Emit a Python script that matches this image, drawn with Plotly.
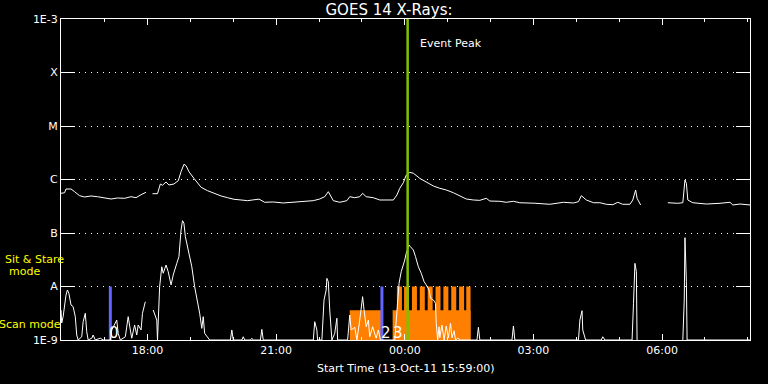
import plotly.graph_objects as go
import pandas as pd

# ---------------- data ----------------
START = "2011-10-13 15:59:00"
END_MIN = 964  # minutes after start shown on the x axis

# GOES 14 long channel (1-8 A), minutes after start, flux W/m^2
long_t = [0, 5, 7, 14, 19, 26, 33, 42, 51, 61, 70, 79, 89, 98, 105, 112, 119, 123,
          128, 135, 139, 142, 147, 151, 158, 164, 168, 172, 175, 179, 186, 196, 205,
          214, 224, 233, 242, 252, 261, 268, 277, 285, 297, 311, 325, 339, 353, 362,
          369, 374, 377, 381, 390, 400, 404, 411, 418, 422, 427, 437, 446, 456, 465,
          470, 474, 479, 483, 488, 493, 502, 511, 521, 530, 539, 549, 558, 567, 577,
          586, 595, 600, 614, 623, 633, 642, 663, 684, 703, 717, 724, 728, 735, 745,
          754, 763, 772, 779, 786, 796, 800, 804, 806, 811, 830, 849, 863, 870, 873,
          875, 877, 884, 903, 922, 936, 940, 950, 964]
long_flux = [5.52e-7, 5.66e-7, 6.64e-7, 6.64e-7, 5.92e-7, 4.98e-7, 4.71e-7, 4.92e-7,
             4.77e-7, 4.51e-7, 4.32e-7, 4.51e-7, 4.45e-7, 4.77e-7, 4.57e-7, 5.2e-7,
             5.77e-7, None,
             5.43e-7, 5.43e-7, 8.24e-7, 7.8e-7, 8.98e-7, 7.89e-7, 8.24e-7, 9.5e-7,
             1.40e-6, 1.92e-6, 1.81e-6, 1.40e-6, 1.05e-6, 7.15e-7, 6.18e-7, 5.52e-7,
             4.92e-7, 4.57e-7, 4.27e-7, 4.14e-7, 4.02e-7, 4.14e-7, 4.3e-7, 3.75e-7,
             3.80e-7, 3.64e-7, 3.80e-7, 3.96e-7, 4.02e-7, 4.32e-7, 4.77e-7, 5.92e-7,
             4.92e-7, 4.02e-7, 3.75e-7, 4.02e-7, 4.77e-7, 4.57e-7, 4.77e-7, 5.52e-7,
             4.77e-7, 4.57e-7, 4.14e-7, 4.08e-7, 4.14e-7, 5.13e-7, 6.85e-7, 8.71e-7,
             1.21e-6, 1.36e-6, 1.31e-6, 1.05e-6, 8.87e-7, 7.56e-7, 6.85e-7, 6.37e-7,
             5.66e-7, 4.92e-7, 4.32e-7, 4.14e-7, 4.08e-7, 4.45e-7, 3.96e-7, 3.91e-7,
             3.75e-7, 3.91e-7, 3.68e-7, 3.6e-7, 3.44e-7, 3.75e-7, 3.64e-7, 3.85e-7,
             4.98e-7, 4.14e-7, 3.68e-7, 3.68e-7, 3.44e-7, 3.38e-7, 3.75e-7, 3.44e-7,
             3.44e-7, 4.14e-7, 6.37e-7, 4.45e-7, 3.34e-7, None, 3.68e-7, 3.59e-7,
             3.68e-7, 9.79e-7, 8.49e-7, 4.14e-7, 3.68e-7, 3.48e-7, 3.59e-7, 3.75e-7,
             3.34e-7, 3.48e-7, 3.34e-7]

# GOES 14 short channel (0.5-4 A)
short_t = [0, 1, 3, 7, 9, 11, 14, 17, 20, 22, 24, 29, 31, 34, 36, 38, 43, 45, 48, 55,
           59, 69, 71, 78, 80, 83, 90, 94, 97, 99, 103, 106, 108, 112, 114, 116, 118,
           123, 129, 131, 134, 135, 138, 141, 143, 147, 150, 154, 157, 162, 165, 168,
           170, 172, 174, 178, 183, 187, 191, 194, 197, 199, 201, 205, 208, 220, 237,
           239, 241, 253, 255, 257, 265, 267, 269, 279, 281, 283, 306, 339, 353, 355,
           358, 359, 365, 368, 371, 372, 374, 376, 379, 383, 386, 387, 401, 404, 406,
           411, 414, 418, 422, 424, 427, 430, 432, 436, 441, 444, 447, 467, 470, 472,
           473, 476, 479, 481, 483, 487, 488, 493, 496, 500, 504, 508, 511, 515, 517,
           521, 524, 525, 527, 529, 530, 533, 536, 539, 542, 545, 547, 550, 552, 555,
           559, 582, 584, 586, 631, 633, 635, 724, 726, 729, 730, 734, 756, 758, 761,
           799, 801, 803, 805, 806, 830, 870, 872, 873, 875, 876, 964]
short_flux = [3.64e-9, 2.08e-9, 2.73e-9, 6.93e-9, 8.6e-9, 7.46e-9, 4.51e-9, 4.19e-9,
              2.73e-9, 1.24e-9, 1e-9, 1.15e-9, 2.2e-9, 3.16e-9, 1.43e-9, 1e-9, 1.08e-9,
              1.24e-9, 1e-9, 1.08e-9, 1e-9, 1e-9, 1.54e-9, 2.36e-9, 1.33e-9, 1e-9,
              1.15e-9, 2.73e-9, 1.54e-9, 1.08e-9, 1.91e-9, 1.24e-9, 1.91e-9, 1.54e-9,
              3.16e-9, 4.19e-9, 5.2e-9,
              None, 3.64e-9, 2.93e-9, 2.36e-9, 1e-9, 9.9e-9, 2.34e-8, 1.77e-8, 2.52e-8,
              1.89e-8, 1.07e-8, 1.64e-8, 2.71e-8, 3.61e-8, 1.14e-7, 1.70e-7, 1.52e-7,
              8.53e-8, 4.81e-8, 2.34e-8, 9.9e-9, 5.6e-9, 3.16e-9, 1.65e-9, 2.73e-9,
              1.33e-9, 1.15e-9, 1e-9, 1e-9, 1e-9, 1.54e-9, 1e-9, 1e-9, 1.15e-9, 1e-9,
              1e-9, 1.08e-9, 1e-9, 1e-9, 1.58e-9, 1e-9, 1e-9, 1e-9, 1e-9, 2.2e-9,
              1.54e-9, 1e-9, 1e-9, 5.6e-9, 8.6e-9, 1.42e-8, 1.23e-8, 3.64e-9, 1e-9,
              1.33e-9, 2.55e-9, 1e-9, 1e-9, 2.93e-9, 1.54e-9, 1.73e-9, 1e-9, 2.36e-9,
              6.45e-9, 3.64e-9, 1.77e-9, 2.36e-9, 1.15e-9, 1.77e-9, 1.08e-9, 1.54e-9,
              1e-9, 1e-9, 3.64e-9, 8.6e-9, 1.15e-8, 1.89e-8, 2.52e-8, 3.13e-8, 4.18e-8,
              5.97e-8, 5.71e-8, 4.81e-8, 3.61e-8, 2.34e-8, 1.77e-8, 1.23e-8, 1.07e-8,
              8.6e-9, 6.02e-9, 5.6e-9, 4.85e-9, 2.05e-9, 1e-9, 1.77e-9, 1.1e-9, 1.91e-9,
              1e-9, 1.83e-9, 1.1e-9, 2.05e-9, 1.1e-9, 1.49e-9, 1e-9, 1.08e-9, 1e-9,
              1e-9, 1.73e-9, 1e-9, 1e-9, 1.83e-9, 1e-9, 1e-9, 2.36e-9, 3.53e-9,
              1.54e-9, 1e-9, 1e-9, 1.15e-9, 1e-9, 1e-9, 4.85e-9, 2.71e-8, 1.89e-8, 1e-9,
              None, 1e-9, 5.6e-9, 8.17e-8, 1.23e-8, 1e-9, 1e-9]

# observation periods (minutes after start)
scan_start = [404, 464]
scan_end = [448, 573]
scan_level = 3.6e-9
sitstare_start = [470, 480, 491, 502, 513, 524, 535, 546, 557, 567]
sitstare_end = [477, 487, 498, 509, 520, 531, 542, 553, 564, 573]
sitstare_level = 1e-8
marker_min = [69, 449]          # blue markers
marker_labels = ["0", "2", "3"]
marker_label_min = [74, 455, 471]
event_peak_min = 485

flux_floor = 1e-9
flux_top = 1e-3
ytick_vals = [1e-9, 1e-8, 1e-7, 1e-6, 1e-5, 1e-4, 1e-3]
ytick_text = ["1E-9", "A", "B", "C", "M", "X", "1E-3"]

# ---------------- figure ----------------
t0 = pd.Timestamp(START)


def T(m):
    return t0 + pd.Timedelta(minutes=m)


ORANGE = "#ff8000"
BLUE = "#6464ff"
GREEN = "#80c000"
YELLOW = "#ffff00"

fig = go.Figure()

# orange observation blocks
for s, e in zip(scan_start, scan_end):
    fig.add_trace(go.Scatter(x=[T(s), T(e), T(e), T(s), T(s)],
                             y=[flux_floor, flux_floor, scan_level, scan_level, flux_floor],
                             fill="toself", fillcolor=ORANGE, mode="lines",
                             line=dict(width=0, color=ORANGE), hoverinfo="skip"))
for s, e in zip(sitstare_start, sitstare_end):
    fig.add_trace(go.Scatter(x=[T(s), T(e), T(e), T(s), T(s)],
                             y=[flux_floor, flux_floor, sitstare_level, sitstare_level, flux_floor],
                             fill="toself", fillcolor=ORANGE, mode="lines",
                             line=dict(width=0, color=ORANGE), hoverinfo="skip"))

# blue markers
for m in marker_min:
    fig.add_trace(go.Scatter(x=[T(m), T(m)], y=[flux_floor, 1e-8], mode="lines",
                             line=dict(color=BLUE, width=3), hoverinfo="skip"))

# GOES curves
fig.add_trace(go.Scatter(x=[T(m) for m in long_t], y=long_flux, mode="lines",
                         line=dict(color="white", width=1), connectgaps=False,
                         hoverinfo="skip"))
fig.add_trace(go.Scatter(x=[T(m) for m in short_t], y=short_flux, mode="lines",
                         line=dict(color="white", width=1), connectgaps=False,
                         hoverinfo="skip"))

# event peak line
fig.add_trace(go.Scatter(x=[T(event_peak_min), T(event_peak_min)], y=[flux_floor, flux_top],
                         mode="lines", line=dict(color=GREEN, width=2.5), hoverinfo="skip"))

# marker labels
for lab, m in zip(marker_labels, marker_label_min):
    fig.add_annotation(x=T(m), xref="x", y=0.022, yref="paper", text=lab,
                       showarrow=False, xanchor="center", yanchor="middle",
                       font=dict(size=15, color="white", family="DejaVu Sans"))

fig.add_annotation(x=(418 - 61) / 689, xref="paper", y=0.925, yref="paper",
                   text="Event Peak", showarrow=False, xanchor="left", yanchor="middle",
                   font=dict(size=11, color="white"))

fig.add_annotation(x=0.5, xref="paper", y=-0.0903, yref="paper",
                   text="Start Time (13-Oct-11 15:59:00)", showarrow=False,
                   xanchor="center", yanchor="middle", font=dict(size=11, color="white"))

fig.add_annotation(x=(34.5 - 61) / 689, xref="paper", y=0.252, yref="paper",
                   text="Sit & Stare", showarrow=False, xanchor="center", yanchor="middle",
                   font=dict(size=11, color=YELLOW))
fig.add_annotation(x=(24.5 - 61) / 689, xref="paper", y=0.212, yref="paper",
                   text="mode", showarrow=False, xanchor="center", yanchor="middle",
                   font=dict(size=11, color=YELLOW))
fig.add_annotation(x=(30 - 61) / 689, xref="paper", y=0.0498, yref="paper",
                   text="Scan mode", showarrow=False, xanchor="center", yanchor="middle",
                   font=dict(size=11, color=YELLOW))

fig.update_layout(
    width=768, height=384,
    margin=dict(l=61, r=18, t=19, b=44),
    paper_bgcolor="black", plot_bgcolor="black",
    showlegend=False,
    font=dict(family="DejaVu Sans", size=11, color="white"),
    title=dict(text="GOES 14 X-Rays:", x=389 / 768, xanchor="center",
               y=1 - 10 / 384, yanchor="middle", font=dict(size=15, color="white")),
    xaxis=dict(type="date", range=[T(0), T(END_MIN)], tickformat="%H:%M",
               tick0="2011-10-13 18:00:00", dtick=3 * 3600000,
               ticks="inside", ticklen=6, tickcolor="white", tickwidth=1,
               showline=True, linecolor="white", linewidth=1, mirror="allticks",
               showgrid=False, zeroline=False,
               minor=dict(dtick=3600000, tick0="2011-10-13 18:00:00", ticks="inside",
                          ticklen=3, tickcolor="white", showgrid=False),
               tickfont=dict(size=11, color="white")),
    yaxis=dict(type="log", range=[-9, -3], tickmode="array", tickvals=ytick_vals,
               ticktext=ytick_text, ticks="inside", ticklen=14, tickcolor="white",
               showline=True, linecolor="white", linewidth=1, mirror="allticks",
               showgrid=True, gridcolor="white", griddash="1px,5px", gridwidth=1,
               zeroline=False, tickfont=dict(size=11, color="white")),
)

fig.write_html("out.html", config={"displayModeBar": False},
               post_script="document.body.style.margin='0';document.body.style.background='black';")
